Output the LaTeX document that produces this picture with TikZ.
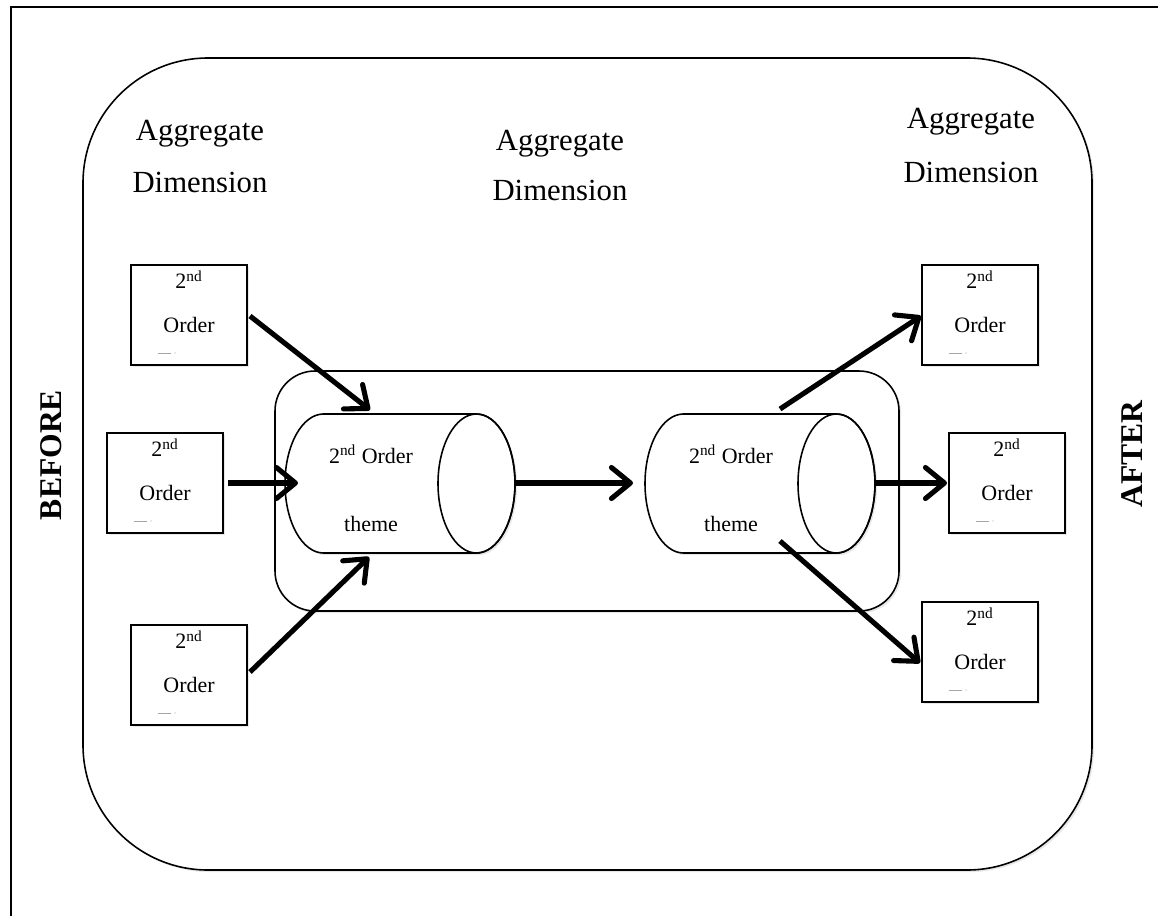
\documentclass[tikz,border=0pt]{standalone}
\usepackage{fontspec}
\setmainfont{Liberation Serif}
\usetikzlibrary{arrows.meta,shadows,calc}

% one theme cylinder lying on its side: left cap centre (#1,#3), right cap centre (#2,#3)
\newcommand\themecyl[3]{%
  \draw[cyl] (#1,#3+69.5) -- (#2,#3+69.5) arc (90:-90:38.5 and 69.5)
    -- (#1,#3-69.5) arc (270:90:38.5 and 69.5) -- cycle;
  \draw[line width=0.9pt] (#2,#3) ellipse (38.5 and 69.5);
}
% a "2nd Order" box: name, centre x, centre y
\newcommand\orderbox[3]{%
  \node[obox] (#1) at (#2,#3) {};
  \node[otext, anchor=base] at ($(#1.north)+(0,-25)$) {2\textsuperscript{nd}};
  \node[otext, anchor=base] at ($(#1.north)+(0,-69)$) {Order};
  \draw[gray!70, line width=0.4pt] ($(#1.north west)+(28,-89)$) -- ++(13,0);
  \fill[gray!70] ($(#1.north west)+(45,-89)$) circle (0.6);
}

\begin{document}
\begin{tikzpicture}[x=0.02cm,y=0.02cm,
  shade/.style={drop shadow={opacity=0.18,shadow xshift=1.2pt,shadow yshift=-1.2pt}},
  region/.style={draw, line width=0.9pt, fill=white, shade},
  cyl/.style={draw, line width=0.9pt, fill=white, shade},
  obox/.style={draw, line width=1.2pt, fill=white, shade, minimum width=2.32cm, minimum height=2cm, inner sep=0pt},
  otext/.style={font=\fontsize{12.5}{14}\selectfont, inner sep=0pt},
  ctext/.style={font=\fontsize{12.5}{14}\selectfont, inner sep=0pt, anchor=base},
  dimtext/.style={font=\fontsize{17.5}{21}\selectfont, inner sep=0pt, anchor=base},
  side/.style={font=\fontsize{18}{21}\selectfont\bfseries, inner sep=0pt, rotate=90},
  flow/.style={line width=2.9pt, -{Straight Barb[round,length=0.38cm,width=0.62cm]}}
]
\useasboundingbox (0,0) rectangle (1158,-916);

% page frame (open towards the right and bottom)
\draw[line width=1.1pt] (11,-916) -- (11,-7) -- (1158,-7);

% the whole process region
\draw[region, rounded corners=2.5cm] (83,-58) rectangle (1092,-870);

% headings
\node[dimtext] (h1a) at (200,-140) {Aggregate};
\node[dimtext] (h1b) at (200,-192) {Dimension};
\node[dimtext] (h2a) at (560,-150) {Aggregate};
\node[dimtext] (h2b) at (560,-200) {Dimension};
\node[dimtext] (h3a) at (971,-128) {Aggregate};
\node[dimtext] (h3b) at (971,-182) {Dimension};

% side labels
\node[side] (before) at (51,-455) {BEFORE};
\node[side] (after) at (1132,-454) {AFTER};

% the theme band
\draw[region, rounded corners=0.8cm] (275,-371) rectangle (899,-611);
\themecyl{323.5}{476.5}{-483.5}
\themecyl{683.5}{836.5}{-483.5}
\node[ctext] (t1a) at (371,-463) {2\textsuperscript{nd} Order};
\node[ctext] (t1b) at (371,-531) {theme};
\node[ctext] (t2a) at (731,-463) {2\textsuperscript{nd} Order};
\node[ctext] (t2b) at (731,-531) {theme};

% boxes before and after
\orderbox{b1}{189}{-315}
\orderbox{b2}{165}{-483}
\orderbox{b3}{189}{-675}
\orderbox{a1}{980}{-315}
\orderbox{a2}{1007}{-483}
\orderbox{a3}{980}{-652}

% arrow ends on the cylinders and boxes
\coordinate (c1top) at (370,-410);
\coordinate (c1left) at (298,-483);
\coordinate (c1bot) at (369,-557);
\coordinate (c1right) at (516,-483);
\coordinate (c2left) at (633,-483);
\coordinate (c2top) at (780,-409);
\coordinate (c2right) at (876,-483);
\coordinate (c2bot) at (780,-541);
\coordinate (b1out) at (250,-316);
\coordinate (b2out) at (228,-483);
\coordinate (b3out) at (250,-672);
\coordinate (a1in) at (921,-316);
\coordinate (a2in) at (947,-483);
\coordinate (a3in) at (920,-663);

\draw[flow] (b1out) -- (c1top);
\draw[flow] (b2out) -- (c1left);
\draw[flow] (b3out) -- (c1bot);
\draw[flow] (c1right) -- (c2left);
\draw[flow] (c2top) -- (a1in);
\draw[flow] (c2right) -- (a2in);
\draw[flow] (c2bot) -- (a3in);
\end{tikzpicture}
\end{document}
